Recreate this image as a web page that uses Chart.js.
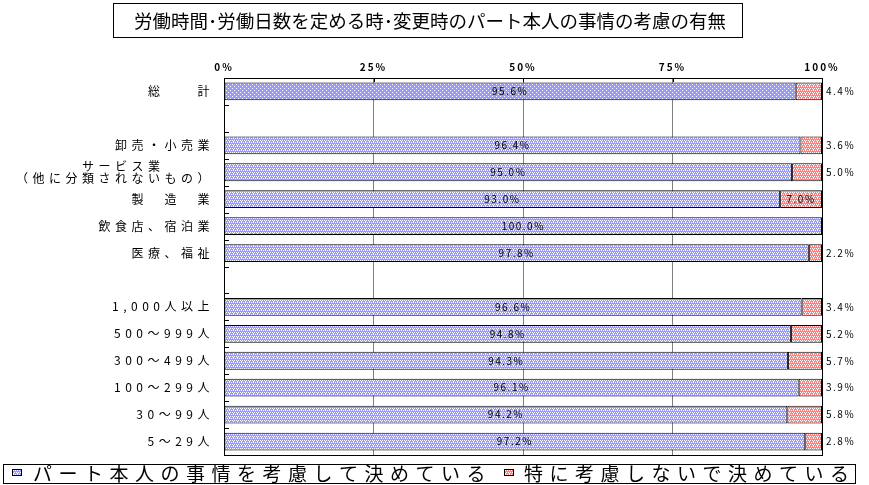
<!DOCTYPE html>
<html>
<head>
<meta charset="utf-8">
<script src="https://cdn.jsdelivr.net/npm/chart.js@4.4.1/dist/chart.umd.min.js"></script>
<style>
  html, body { margin: 0; padding: 0; background: #fff; }
  #wrap { width: 869px; height: 485px; }
</style>
</head>
<body>
<div id="wrap"><canvas id="chart" width="869" height="485"></canvas></div>
<script>
const titleText = '労働時間･労働日数を定める時･変更時のパート本人の事情の考慮の有無';
const seriesNames = ['パート本人の事情を考慮して決めている', '特に考慮しないで決めている'];
const categories = [
  '総　　計', '',
  '卸売・小売業', ['サービス業　　　', '（他に分類されないもの）'], '製　造　業', '飲食店、宿泊業', '医療、福祉',
  '',
  '1,000人以上', '500～999人', '300～499人', '100～299人', '30～99人', '5～29人'
];
const consideredValues = [95.6, null, 96.4, 95.0, 93.0, 100.0, 97.8, null, 96.6, 94.8, 94.3, 96.1, 94.2, 97.2];
const notConsideredValues = [4.4, null, 3.6, 5.0, 7.0, null, 2.2, null, 3.4, 5.2, 5.7, 3.9, 5.8, 2.8];
const tickLabels = ['0%', '25%', '50%', '75%', '100%'];

const FONT = '"Noto Sans CJK JP", "Noto Sans", sans-serif';

// small dotted fills like the old office charts
function makePattern(base, dots) {
  const c = document.createElement('canvas');
  c.width = 4; c.height = 4;
  const g = c.getContext('2d');
  g.fillStyle = base;
  g.fillRect(0, 0, 4, 4);
  g.fillStyle = '#ffffff';
  dots.forEach(([x, y]) => g.fillRect(x, y, 1, 1));
  return g.createPattern(c, 'repeat');
}
const blueSparse = makePattern('#9999ff', [[0, 0], [2, 2]]);
const blueDense = makePattern('#9999ff', [[0, 0], [2, 0], [1, 2], [3, 2], [1, 1]]);
const redDense = makePattern('#ff8080', [[0, 0], [2, 0], [1, 2], [3, 2], [1, 1]]);

const blueFill = consideredValues.map((_, i) => (i === 0 ? blueSparse : blueDense));

const spacingPlugin = {
  id: 'spacing',
  afterLayout(chart) {
    [['x', '2px'], ['y', '4.5px']].forEach(([id, sp]) => {
      const s = chart.scales[id];
      if (!s || s._spaced) return;
      const orig = s.drawLabels;
      s.drawLabels = function (area) {
        this.ctx.save();
        this.ctx.letterSpacing = sp;
        orig.call(this, area);
        this.ctx.restore();
      };
      s._spaced = true;
    });
  }
};

const valueLabels = {
  id: 'valueLabels',
  afterDatasetsDraw(chart) {
    const ctx = chart.ctx;
    const area = chart.chartArea;
    ctx.save();
    ctx.font = '10px ' + FONT;
    ctx.letterSpacing = '1.5px';
    ctx.fillStyle = '#000';
    ctx.textBaseline = 'middle';
    chart.getDatasetMeta(0).data.forEach((bar, i) => {
      const v = consideredValues[i];
      if (v == null) return;
      ctx.textAlign = 'center';
      ctx.fillText(v.toFixed(1) + '%', (bar.x + bar.base) / 2, bar.y);
    });
    chart.getDatasetMeta(1).data.forEach((bar, i) => {
      const v = notConsideredValues[i];
      if (v == null) return;
      if (v >= 6) {
        ctx.textAlign = 'center';
        ctx.fillText(v.toFixed(1) + '%', (bar.x + bar.base) / 2, bar.y);
      } else {
        ctx.textAlign = 'left';
        ctx.fillText(v.toFixed(1) + '%', area.right + 4, bar.y);
      }
    });
    ctx.restore();
  }
};

const frame = {
  id: 'frame',
  afterDraw(chart) {
    const ctx = chart.ctx;
    const a = chart.chartArea;
    const x = chart.scales.x;
    ctx.save();
    ctx.strokeStyle = '#000';
    ctx.lineWidth = 1;
    // plot border
    ctx.strokeRect(Math.round(a.left) + 0.5, Math.round(a.top) + 0.5,
      Math.round(a.right - a.left), Math.round(a.bottom - a.top));
    // inner ticks on the left axis (category boundaries)
    const step = (a.bottom - a.top) / categories.length;
    ctx.beginPath();
    for (let i = 1; i < categories.length; i++) {
      const yy = Math.round(a.top + i * step) + 0.5;
      ctx.moveTo(a.left, yy);
      ctx.lineTo(a.left + 5, yy);
    }
    // inner ticks on the top axis
    tickLabels.forEach((_, i) => {
      const xx = Math.round(x.getPixelForValue(i * 25)) + 0.5;
      ctx.moveTo(xx, a.top);
      ctx.lineTo(xx, a.top + 4);
    });
    ctx.stroke();

    // title box
    ctx.strokeRect(113.5, 3.5, 629, 34);
    ctx.fillStyle = '#000';
    ctx.font = '18.5px ' + FONT;
    ctx.textAlign = 'center';
    ctx.textBaseline = 'middle';
    ctx.fillText(titleText, 430, 21);

    // legend box
    ctx.strokeRect(3.5, 464.5, 852, 19);
    ctx.font = '19px ' + FONT;
    ctx.letterSpacing = '6.5px';
    ctx.textAlign = 'left';
    const items = [
      { x: 12, fill: blueDense, text: seriesNames[0], tx: 33 },
      { x: 504, fill: redDense, text: seriesNames[1], tx: 524 }
    ];
    items.forEach(it => {
      ctx.fillStyle = it.fill;
      ctx.fillRect(it.x, 469, 10, 7);
      ctx.strokeRect(it.x + 0.5, 469.5, 9, 6);
      ctx.fillStyle = '#000';
      ctx.fillText(it.text, it.tx, 474);
    });
    ctx.restore();
  }
};

new Chart(document.getElementById('chart'), {
  type: 'bar',
  data: {
    labels: categories,
    datasets: [
      {
        label: seriesNames[0],
        data: consideredValues,
        backgroundColor: blueFill,
        borderColor: '#000',
        borderWidth: 1,
        borderSkipped: false,
        barPercentage: 0.66,
        categoryPercentage: 1.0
      },
      {
        label: seriesNames[1],
        data: notConsideredValues,
        backgroundColor: redDense,
        borderColor: '#000',
        borderWidth: 1,
        borderSkipped: false,
        barPercentage: 0.66,
        categoryPercentage: 1.0
      }
    ]
  },
  options: {
    indexAxis: 'y',
    responsive: false,
    animation: false,
    devicePixelRatio: 1,
    layout: { padding: { top: 54, right: 47, bottom: 30, left: 0 } },
    plugins: {
      legend: { display: false },
      title: { display: false },
      tooltip: { enabled: false }
    },
    scales: {
      x: {
        position: 'top',
        stacked: true,
        min: 0,
        max: 100,
        ticks: {
          stepSize: 25,
          padding: 5,
          color: '#000',
          font: { family: FONT, size: 10, weight: 'bold' },
          callback: (v, i) => tickLabels[i]
        },
        grid: { color: '#808080', drawTicks: false },
        border: { display: false },
        afterFit: s => { s.height = 24; }
      },
      y: {
        stacked: true,
        ticks: {
          autoSkip: false,
          padding: 10,
          color: '#000',
          font: { family: FONT, size: 12, lineHeight: 1.05 }
        },
        grid: { display: false, drawTicks: false },
        border: { display: false },
        afterFit: s => { s.width = 224; }
      }
    }
  },
  plugins: [spacingPlugin, valueLabels, frame]
});
</script>
</body>
</html>
